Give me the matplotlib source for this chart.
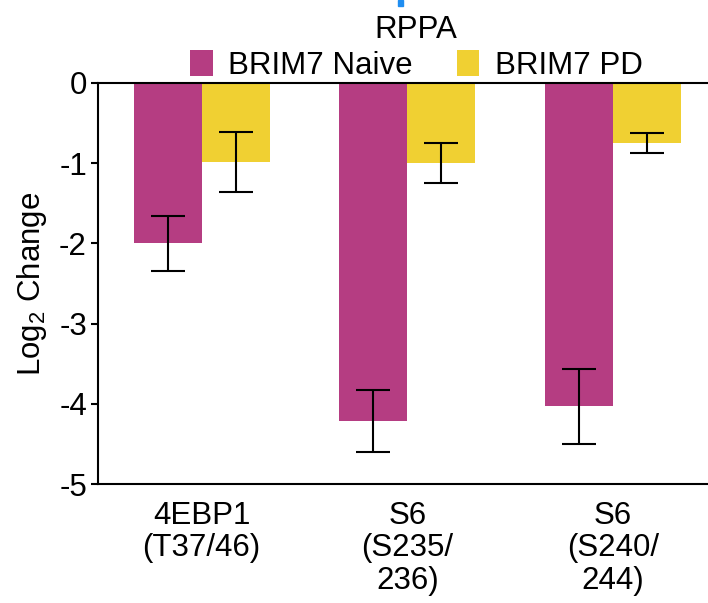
import numpy as np
import matplotlib
matplotlib.use("Agg")
import matplotlib.pyplot as plt
from matplotlib.patches import Rectangle

plt.rcParams.update({"font.family": "Liberation Sans", "font.size": 22.5,
                     "mathtext.fontset": "custom", "mathtext.rm": "Liberation Sans",
                     "mathtext.it": "Liberation Sans"})

# RPPA log2 change per phospho-site
sites = ["4EBP1\n(T37/46)", "S6\n(S235/\n236)", "S6\n(S240/\n244)"]
naive = [-2.00, -4.21, -4.03]
naive_err = [0.345, 0.385, 0.47]
pd_ = [-0.985, -1.00, -0.745]
pd_err = [0.375, 0.25, 0.125]

MAG = "#b53d82"; YEL = "#f0d032"
fig = plt.figure(figsize=(7.08, 6.03), dpi=100)
ax = fig.add_axes([98/708, 1-484/603, 1-98/708, (484-83)/603])

x = np.arange(len(sites)); w = 0.331
ekw = dict(ecolor="black", elinewidth=1.5, capsize=12.5, capthick=1.5)
ax.bar(x-w/2, naive, w, yerr=naive_err, color=MAG, label="BRIM7 Naive", error_kw=ekw)
ax.bar(x+w/2, pd_, w, yerr=pd_err, color=YEL, label="BRIM7 PD", error_kw=ekw)

ax.set_xlim(-0.504, 2.462); ax.set_ylim(-5, 0)
ax.set_yticks(range(-5, 1))
ax.set_yticklabels([str(v) for v in range(-5, 1)])
ax.set_xticks(x); ax.set_xticklabels(sites, linespacing=1.12)
ax.tick_params(axis="x", length=0, pad=12)
ax.tick_params(axis="y", length=5, width=1.5, pad=3)
for s in ("left", "top", "bottom"):
    ax.spines[s].set_linewidth(1.5)
ax.spines["right"].set_visible(False)
ax.set_ylabel("Log$_2$ Change", labelpad=7)

leg = fig.legend(loc="center", bbox_to_anchor=(0.588, 0.921), ncol=2, frameon=False,
                 title="RPPA", title_fontsize=22.5, handlelength=0.72, handleheight=0.88,
                 handletextpad=0.5, columnspacing=1.4, borderaxespad=0, borderpad=0,
                 labelspacing=0.3)
leg._legend_box.sep = 4

# small blue edge mark at the top
fig.patches.append(Rectangle((398/708, 1-6/603), 5/708, 6/603, transform=fig.transFigure,
                             color="#1f8ef1"))

fig.savefig("out.png", dpi=100)
